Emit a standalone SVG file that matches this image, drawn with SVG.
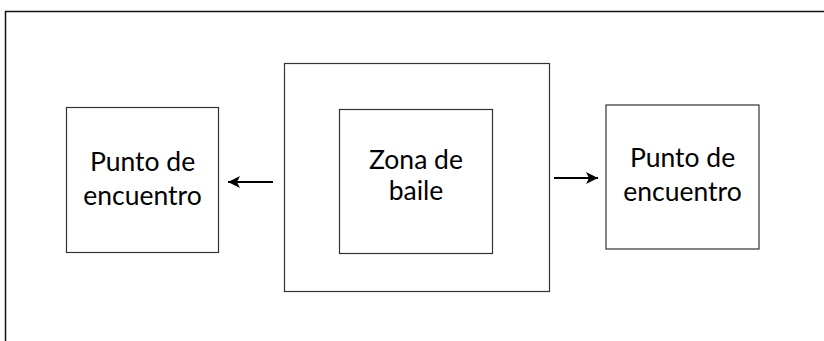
<svg xmlns="http://www.w3.org/2000/svg" width="824" height="341" viewBox="0 0 824 341">
  <style>
    .box { fill: #fff; stroke: #333; stroke-width: 1.2; }
    .frame { fill: none; stroke: #111; stroke-width: 1.5; }
    .lbl { font-family: Lato, "Open Sans", sans-serif; font-size: 26.5px; fill: #000; text-anchor: middle; }
    .conn { stroke: #000; stroke-width: 2; fill: none; }
  </style>
  <defs>
    <marker id="ah" viewBox="0 0 10 10" refX="10" refY="5" markerWidth="6.5" markerHeight="6" orient="auto" markerUnits="strokeWidth">
      <path d="M0,0 L10,5 L0,10 L2.5,5 Z" fill="#000"/>
    </marker>
  </defs>
  <rect width="824" height="341" fill="#fff"/>
  <path class="frame" d="M5.5,345 V11.5 H830"/>
  <g id="zona-exterior">
    <rect class="box" x="284.5" y="63.5" width="265" height="228"/>
  </g>
  <g id="zona-baile">
    <rect class="box" x="339.5" y="109.5" width="153" height="144"/>
    <text class="lbl" x="416" y="169">Zona de</text>
    <text class="lbl" x="416" y="200">baile</text>
  </g>
  <g id="punto-izq">
    <rect class="box" x="66.5" y="107.5" width="152" height="145"/>
    <text class="lbl" x="142.5" y="171">Punto de</text>
    <text class="lbl" x="142.5" y="205">encuentro</text>
  </g>
  <g id="punto-der">
    <rect class="box" x="606" y="105" width="153" height="144"/>
    <text class="lbl" x="682.5" y="167">Punto de</text>
    <text class="lbl" x="682.5" y="201">encuentro</text>
  </g>
  <g id="conectores">
    <line class="conn" x1="273" y1="182" x2="228" y2="182" marker-end="url(#ah)"/>
    <line class="conn" x1="554" y1="178" x2="598" y2="178" marker-end="url(#ah)"/>
  </g>
</svg>
